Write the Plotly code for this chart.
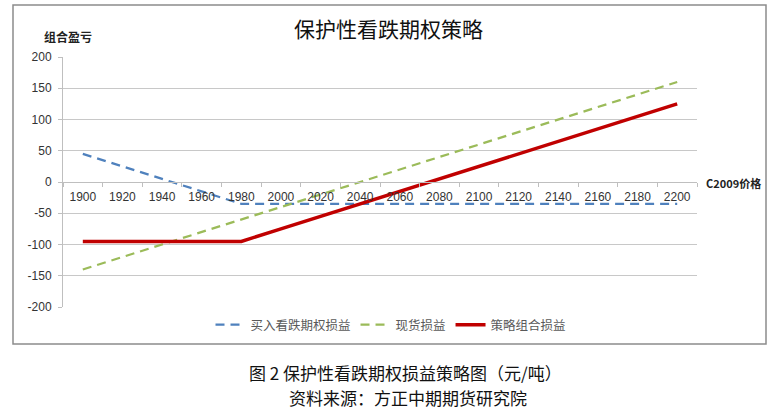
import plotly.graph_objects as go

prices = ["1900", "1920", "1940", "1960", "1980", "2000", "2020", "2040",
          "2060", "2080", "2100", "2120", "2140", "2160", "2180", "2200"]
put_pnl = [45, 25, 5, -15, -35, -35, -35, -35, -35, -35, -35, -35, -35, -35, -35, -35]
spot_pnl = [-140, -120, -100, -80, -60, -40, -20, 0, 20, 40, 60, 80, 100, 120, 140, 160]
strategy_pnl = [-95, -95, -95, -95, -95, -75, -55, -35, -15, 5, 25, 45, 65, 85, 105, 125]

series_names = ["买入看跌期权损益", "现货损益", "策略组合损益"]
y_ticks = [200, 150, 100, 50, 0, -50, -100, -150, -200]

CJK = "Noto Sans CJK SC"
NUM = "Liberation Sans"

fig = go.Figure()
fig.add_trace(go.Scatter(x=prices, y=put_pnl, mode="lines", name=series_names[0],
                         line=dict(color="#4F81BD", width=2.25, dash="9px,6px")))
fig.add_trace(go.Scatter(x=prices, y=spot_pnl, mode="lines", name=series_names[1],
                         line=dict(color="#9BBB59", width=2.25, dash="9px,6px")))
fig.add_trace(go.Scatter(x=prices, y=strategy_pnl, mode="lines", name=series_names[2],
                         line=dict(color="#C00000", width=3.5)))

W, H = 771, 414
L, R, T, B = 63, 697, 57, 307
ml, mr, mt, mb = L, W - R, T, H - B
pw, ph = R - L, B - T

def px2x(p):
    return (p - L) / pw

def px2y(p):
    return (B - p) / ph

fig.update_layout(
    width=W, height=H,
    margin=dict(l=ml, r=mr, t=mt, b=mb, pad=0, autoexpand=False),
    paper_bgcolor="white", plot_bgcolor="white",
    showlegend=True,
    legend=dict(orientation="h", x=px2x(391), xanchor="center",
                y=px2y(325), yanchor="middle",
                font=dict(family=CJK, size=12.5, color="#595959"),
                bgcolor="rgba(0,0,0,0)"),
    xaxis=dict(type="category", categoryorder="array", categoryarray=prices,
               range=[-0.5, len(prices) - 0.5], automargin=False,
               anchor="free", position=0.5, showgrid=False, zeroline=False,
               showline=True, linecolor="#BFBFBF", linewidth=1,
               ticks="outside", ticklen=4, tickcolor="#BFBFBF", tickson="boundaries",
               tickfont=dict(family=NUM, size=12, color="#333333"),
               ticklabelstandoff=4),
    yaxis=dict(range=[-200, 200], tickvals=y_ticks, ticktext=[str(v) for v in y_ticks],
               automargin=False, showgrid=True, gridcolor="#C8C8C8",
               gridwidth=1, zeroline=False, showline=True, linecolor="#BFBFBF",
               ticks="outside", ticklen=4, tickcolor="#BFBFBF",
               tickfont=dict(family=NUM, size=12, color="#333333"),
               ticklabelstandoff=4),
)

# outer border
fig.add_shape(type="rect", xref="paper", yref="paper",
              x0=px2x(13), x1=px2x(766), y0=px2y(344), y1=px2y(5),
              line=dict(color="#8C8C8C", width=1.5), fillcolor="rgba(0,0,0,0)", layer="below")

fig.add_annotation(text="保护性看跌期权策略", xref="paper", yref="paper",
                   x=px2x(388), y=px2y(28), xanchor="center", yanchor="middle",
                   showarrow=False, font=dict(family=CJK, size=21, color="#111111"))
fig.add_annotation(text="<b>组合盈亏</b>", xref="paper", yref="paper",
                   x=px2x(42), y=px2y(37), xanchor="left", yanchor="middle",
                   showarrow=False, font=dict(family=CJK, size=12, color="#222222"))
fig.add_annotation(text="<b>C2009价格</b>", xref="paper", yref="paper",
                   x=px2x(704), y=px2y(183), xanchor="left", yanchor="middle",
                   showarrow=False, font=dict(family=CJK, size=11, color="#222222"))
fig.add_annotation(text="图 2 保护性看跌期权损益策略图（元/吨）", xref="paper", yref="paper",
                   x=px2x(405), y=px2y(372), xanchor="center", yanchor="middle",
                   showarrow=False, font=dict(family=CJK, size=17, color="#111111"))
fig.add_annotation(text="资料来源：方正中期期货研究院", xref="paper", yref="paper",
                   x=px2x(408), y=px2y(398), xanchor="center", yanchor="middle",
                   showarrow=False, font=dict(family=CJK, size=17, color="#111111"))

fig.write_html("out.html", config={"displayModeBar": False},
               post_script="document.body.style.margin='0';document.body.style.overflow='hidden';")
